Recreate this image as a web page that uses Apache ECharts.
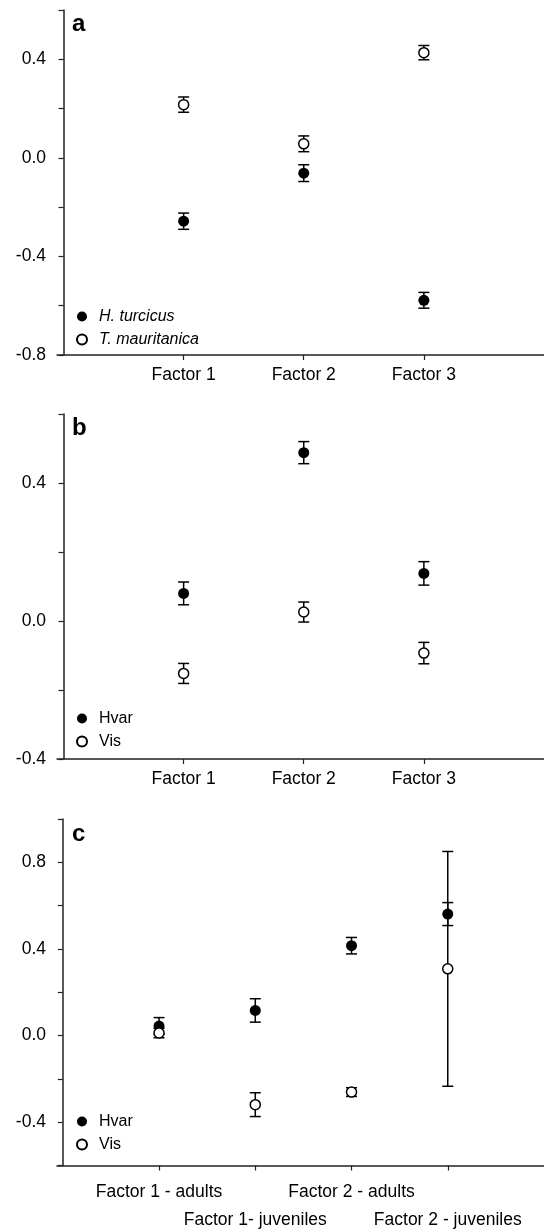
<!DOCTYPE html>
<html style="height: 100%">
<head>
    <meta charset="utf-8">
</head>
<body style="height: 100%; margin: 0; background: #fff">
<div id="container" style="width: 544px; height: 1232px"></div>
<script src="https://cdn.jsdelivr.net/npm/echarts@6/dist/echarts.min.js"></script>
<script type="text/javascript">
    // panel a - species
    var factorsA = ['Factor 1', 'Factor 2', 'Factor 3'];
    var turcicusMean = [-0.257, -0.062, -0.578];
    var turcicusErr = [0.033, 0.034, 0.032];
    var mauritanicaMean = [0.216, 0.057, 0.427];
    var mauritanicaErr = [0.031, 0.032, 0.029];

    // panel b - islands
    var factorsB = ['Factor 1', 'Factor 2', 'Factor 3'];
    var hvarMeanB = [0.080, 0.488, 0.138];
    var hvarErrB = [0.033, 0.032, 0.034];
    var visMeanB = [-0.152, 0.026, -0.093];
    var visErrB = [0.029, 0.029, 0.031];

    // panel c - islands, adults / juveniles
    var factorsC = ['Factor 1 - adults', 'Factor 1- juveniles', 'Factor 2 - adults', 'Factor 2 - juveniles'];
    var hvarMeanC = [0.044, 0.116, 0.415, 0.561];
    var hvarErrC = [0.039, 0.054, 0.038, 0.053];
    var visMeanC = [0.012, -0.319, -0.261, 0.308];
    var visErrC = [0.022, 0.055, 0.020, 0.542];

    var font = 'Liberation Sans, Arial, sans-serif';

    function pts(mean) {
        return mean.map(function (v, i) { return [i + 1, v]; });
    }
    function bars(mean, err) {
        return mean.map(function (v, i) { return [i + 1, v - err[i], v + err[i]]; });
    }

    function errorBar(params, api) {
        var top = api.coord([api.value(0), api.value(2)]);
        var bot = api.coord([api.value(0), api.value(1)]);
        var w = 5.5;
        var st = {stroke: '#000', lineWidth: 1.5};
        return {
            type: 'group',
            children: [
                {type: 'line', shape: {x1: top[0], y1: top[1], x2: bot[0], y2: bot[1]}, style: st},
                {type: 'line', shape: {x1: top[0] - w, y1: top[1], x2: top[0] + w, y2: top[1]}, style: st},
                {type: 'line', shape: {x1: bot[0] - w, y1: bot[1], x2: bot[0] + w, y2: bot[1]}, style: st}
            ]
        };
    }

    function yLabel(v) {
        if (Math.round(v * 10) % 4 !== 0) return '';
        return (Math.round(v * 10) / 10).toFixed(1);
    }

    // vals: which positions get a tick / label; line: draw axis line and ticks
    function xAxis(idx, min, max, names, vals, margin, line) {
        return {
            type: 'value', gridIndex: idx, min: min, max: max, position: 'bottom',
            axisLine: {show: line, onZero: false, lineStyle: {color: '#222', width: 1.5}},
            axisTick: {show: line, inside: false, length: 5, customValues: vals, lineStyle: {color: '#222', width: 1.2}},
            axisLabel: {
                customValues: vals, hideOverlap: false,
                margin: margin,
                color: '#000', fontFamily: font, fontSize: 17.5,
                formatter: function (v) { return names[Math.round(v) - 1] || ''; }
            },
            splitLine: {show: false}
        };
    }

    function yAxis(idx, min, max) {
        return {
            type: 'value', gridIndex: idx, min: min, max: max, interval: 0.2,
            axisLine: {show: true, onZero: true, lineStyle: {color: '#222', width: 1.5}},
            axisTick: {show: true, inside: false, length: 5, lineStyle: {color: '#222', width: 1.2}},
            axisLabel: {margin: 11, color: '#000', fontFamily: font, fontSize: 17.5, formatter: yLabel},
            splitLine: {show: false}
        };
    }

    function errSeries(idx, data) {
        return {
            type: 'custom', name: 'err', xAxisIndex: idx, yAxisIndex: idx,
            renderItem: errorBar, encode: {x: 0, y: [1, 2]}, data: data, z: 2
        };
    }
    function filled(idx, name, data) {
        return {
            type: 'scatter', name: name, xAxisIndex: idx, yAxisIndex: idx,
            symbol: 'circle', symbolSize: 11, data: data, z: 3,
            itemStyle: {color: '#000', opacity: 1}
        };
    }
    function open(idx, name, data) {
        return {
            type: 'scatter', name: name, xAxisIndex: idx, yAxisIndex: idx,
            symbol: 'circle', symbolSize: 10, data: data, z: 4,
            itemStyle: {color: '#fff', borderColor: '#000', borderWidth: 1.5, opacity: 1}
        };
    }

    function legend(top, names, italic) {
        return {
            orient: 'vertical', left: 76, top: top, padding: 0,
            itemWidth: 10, itemHeight: 10, itemGap: 6,
            data: names, selectedMode: false,
            textStyle: {
                color: '#000', fontFamily: font, fontSize: 16, lineHeight: 17,
                fontStyle: italic ? 'italic' : 'normal', padding: [0, 0, 0, 7]
            }
        };
    }

    var letterStyle = {fontFamily: font, fontSize: 24, fontWeight: 'bold', color: '#000'};

    var dom = document.getElementById("container");
    var myChart = echarts.init(dom, null, {renderer: 'canvas'});

    var option = {
        animation: false,
        backgroundColor: '#fff',
        title: [
            {text: 'a', left: 72, top: 12, padding: 0, textStyle: letterStyle},
            {text: 'b', left: 72, top: 416, padding: 0, textStyle: letterStyle},
            {text: 'c', left: 72, top: 822, padding: 0, textStyle: letterStyle}
        ],
        legend: [
            legend(308, ['H. turcicus', 'T. mauritanica'], true),
            legend(710, ['Hvar', 'Vis'], false),
            legend(1113, ['Hvar', 'Vis'], false)
        ],
        grid: [
            {left: 57, right: 0, top: 10, height: 345},
            {left: 57, right: 0, top: 414, height: 345},
            {left: 57, right: 0, top: 819, height: 346.5}
        ],
        xAxis: [
            xAxis(0, -0.0541, 4, factorsA, [1, 2, 3], 11, true),
            xAxis(1, -0.0541, 4, factorsB, [1, 2, 3], 11, true),
            xAxis(2, -0.0603, 5, factorsC, [1, 2, 3, 4], 18, true),
            xAxis(2, -0.0603, 5, factorsC, [2, 4], 46, false)
        ],
        yAxis: [
            yAxis(0, -0.8, 0.6),
            yAxis(1, -0.4, 0.6),
            yAxis(2, -0.6, 1.0)
        ],
        series: [
            errSeries(0, bars(turcicusMean, turcicusErr)),
            errSeries(0, bars(mauritanicaMean, mauritanicaErr)),
            filled(0, 'H. turcicus', pts(turcicusMean)),
            open(0, 'T. mauritanica', pts(mauritanicaMean)),

            errSeries(1, bars(hvarMeanB, hvarErrB)),
            errSeries(1, bars(visMeanB, visErrB)),
            filled(1, 'Hvar', pts(hvarMeanB)),
            open(1, 'Vis', pts(visMeanB)),

            errSeries(2, bars(hvarMeanC, hvarErrC)),
            errSeries(2, bars(visMeanC, visErrC)),
            filled(2, 'Hvar', pts(hvarMeanC)),
            open(2, 'Vis', pts(visMeanC))
        ]
    };

    // first row of panel c only labels 1 and 3
    option.xAxis[2].axisLabel.formatter = function (v) {
        var i = Math.round(v);
        return i % 2 === 1 ? (factorsC[i - 1] || '') : '';
    };

    if (option && typeof option === "object") {
        myChart.setOption(option, true);
    }
</script>
</body>
</html>
